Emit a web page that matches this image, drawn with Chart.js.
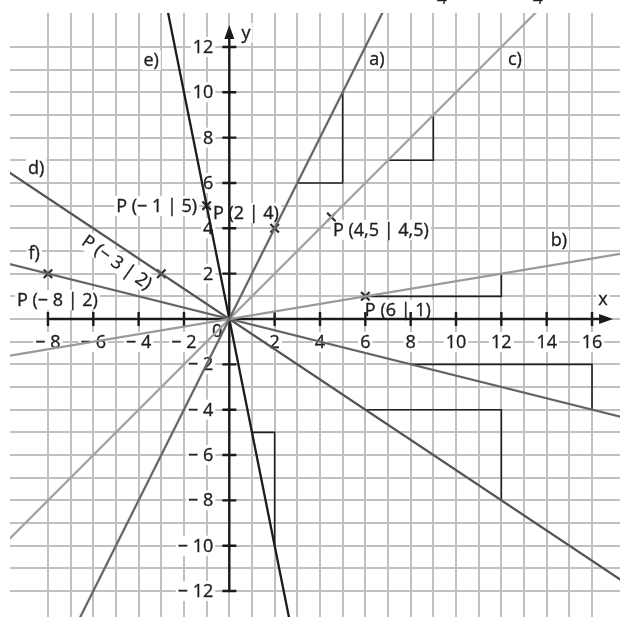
<!DOCTYPE html>
<html>
<head>
<meta charset="utf-8">
<script src="https://cdn.jsdelivr.net/npm/chart.js@4/dist/chart.umd.min.js"></script>
<style>
  html, body { margin: 0; padding: 0; background: #fff; }
</style>
</head>
<body>
<canvas id="graph" width="620" height="617"></canvas>
<script>
// lines a) - f), each through the origin and a marked point P
const lineNames = ["a)", "b)", "c)", "d)", "e)", "f)"];
const pointX = [2, 6, 4.5, -3, -1, -8];
const pointY = [4, 1, 4.5, 2, 5, 2];
const pointNames = ["P (2 | 4)", "P (6 | 1)", "P (4,5 | 4,5)", "P (− 3 | 2)", "P (− 1 | 5)", "P (− 8 | 2)"];

// slope triangles (corner points)
const triX = [[3, 5, 5], [6, 12, 12], [7, 9, 9], [6, 12, 12], [1, 2, 2], [8, 16, 16]];
const triY = [[6, 6, 10], [1, 1, 2], [7, 7, 9], [-4, -4, -8], [-5, -5, -10], [-2, -2, -4]];

const xTicks = [-8, -6, -4, -2, 2, 4, 6, 8, 10, 12, 14, 16];
const yTicks = [12, 10, 8, 6, 4, 2, -2, -4, -6, -8, -10, -12];

const lineColors = ["#686868", "#999999", "#a2a2a2", "#555555", "#1c1c1c", "#646464"];
const FONT = '18px "Open Sans", sans-serif';
const INK = "#1e1e1e";

// where the texts sit (data coords)
const nameSpots = [[6.51, 11.47], [14.54, 3.48], [12.6, 11.47], [-8.52, 6.66], [-3.45, 11.42], [-8.61, 2.91]];
const pointSpots = [
  { x: -0.72, y: 4.68, align: "left" },
  { x: 5.98, y: 0.4, align: "left" },
  { x: 4.57, y: 3.93, align: "left" },
  { x: -4.95, y: 2.51, align: "center", rot: 35 },
  { x: -1.42, y: 4.98, align: "right" },
  { x: -9.37, y: 0.84, align: "left" },
];

const minus = v => v < 0 ? "− " + (-v) : String(v);

const datasets = [];
lineNames.forEach((name, i) => {
  const m = pointY[i] / pointX[i];
  datasets.push({
    label: name,
    data: [{ x: -12, y: -12 * m }, { x: 20, y: 20 * m }],
    showLine: true,
    borderColor: lineColors[i],
    borderWidth: 2.3,
    pointRadius: 0,
  });
  datasets.push({
    label: name + " triangle",
    data: triX[i].map((x, k) => ({ x: x, y: triY[i][k] })),
    showLine: true,
    borderColor: "#222",
    borderWidth: 1.6,
    pointRadius: 0,
  });
});
datasets.push({
  label: "P",
  data: pointX.map((x, i) => ({ x: x, y: pointY[i] })),
  showLine: false,
  pointStyle: "crossRot",
  pointRadius: 6,
  pointBorderWidth: 2.2,
  pointBorderColor: "#2a2a2a",
});

function boxText(ctx, text, x, y, align, rot) {
  ctx.save();
  ctx.translate(x, y);
  if (rot) ctx.rotate(rot * Math.PI / 180);
  ctx.font = FONT;
  const w = ctx.measureText(text).width;
  let left = align === "left" ? 0 : align === "right" ? -w : -w / 2;
  ctx.fillStyle = "#fff";
  ctx.fillRect(left - 2, -10, w + 4, 20);
  ctx.fillStyle = INK;
  ctx.strokeStyle = INK;
  ctx.lineWidth = 0.35;
  ctx.textAlign = align;
  ctx.textBaseline = "middle";
  ctx.fillText(text, 0, 1);
  ctx.strokeText(text, 0, 1);
  ctx.restore();
}

const axesPlugin = {
  id: "axes",
  beforeDatasetsDraw(chart) {
    const { ctx, scales: { x, y } } = chart;
    const ox = x.getPixelForValue(0), oy = y.getPixelForValue(0);

    xTicks.forEach(v => boxText(ctx, minus(v), x.getPixelForValue(v), oy + 23, "center"));
    yTicks.forEach(v => boxText(ctx, minus(v), ox - 16, y.getPixelForValue(v), "right"));
    boxText(ctx, "0", x.getPixelForValue(-0.54), y.getPixelForValue(-0.53), "center");

    pointNames.forEach((t, i) => {
      const s = pointSpots[i];
      boxText(ctx, t, x.getPixelForValue(s.x), y.getPixelForValue(s.y), s.align, s.rot);
    });
    lineNames.forEach((t, i) => {
      boxText(ctx, t, x.getPixelForValue(nameSpots[i][0]), y.getPixelForValue(nameSpots[i][1]), "center");
    });
    boxText(ctx, "x", x.getPixelForValue(16.48), y.getPixelForValue(0.88), "center");
    boxText(ctx, "y", x.getPixelForValue(0.74), y.getPixelForValue(12.62), "center");

    // cut-off text at the top edge
    ctx.save();
    ctx.font = FONT;
    ctx.fillStyle = INK;
    ctx.textAlign = "center";
    ctx.textBaseline = "alphabetic";
    ctx.fillText("4", x.getPixelForValue(9.38), 4);
    ctx.fillText("4", x.getPixelForValue(13.61), 4);
    ctx.restore();

    // axes with arrows
    ctx.save();
    ctx.strokeStyle = "#1a1a1a";
    ctx.fillStyle = "#1a1a1a";
    ctx.lineWidth = 2.4;
    const xEnd = x.getPixelForValue(16.93), yEnd = y.getPixelForValue(12.97);
    ctx.beginPath();
    ctx.moveTo(x.getPixelForValue(-8), oy);
    ctx.lineTo(xEnd - 8, oy);
    ctx.moveTo(ox, y.getPixelForValue(-12));
    ctx.lineTo(ox, yEnd + 8);
    xTicks.forEach(v => {
      const px = x.getPixelForValue(v);
      ctx.moveTo(px, oy - 7); ctx.lineTo(px, oy + 7);
    });
    yTicks.forEach(v => {
      const py = y.getPixelForValue(v);
      ctx.moveTo(ox - 7, py); ctx.lineTo(ox + 7, py);
    });
    ctx.stroke();
    ctx.beginPath();
    ctx.moveTo(xEnd, oy); ctx.lineTo(xEnd - 14, oy - 5); ctx.lineTo(xEnd - 14, oy + 5); ctx.closePath();
    ctx.moveTo(ox, yEnd); ctx.lineTo(ox - 5, yEnd + 14); ctx.lineTo(ox + 5, yEnd + 14); ctx.closePath();
    ctx.fill();
    ctx.restore();
  },
};

const gridColor = c => Number.isInteger(c.tick.value) ? "#c0c0c0" : "rgba(0,0,0,0)";

new Chart(document.getElementById("graph").getContext("2d"), {
  type: "scatter",
  data: { datasets: datasets },
  options: {
    responsive: false,
    animation: false,
    devicePixelRatio: 1,
    layout: { autoPadding: false, padding: { left: 10, top: 13, right: 0, bottom: 0 } },
    plugins: { legend: { display: false }, tooltip: { enabled: false } },
    scales: {
      x: {
        type: "linear",
        min: -9.674,
        max: 17.234,
        ticks: { display: false, stepSize: 1, autoSkip: false },
        grid: { color: gridColor, lineWidth: 2, drawTicks: false },
        border: { display: false },
      },
      y: {
        type: "linear",
        min: -13.145,
        max: 13.498,
        ticks: { display: false, stepSize: 1, autoSkip: false },
        grid: { color: gridColor, lineWidth: 2, drawTicks: false },
        border: { display: false },
      },
    },
  },
  plugins: [axesPlugin],
});
</script>
</body>
</html>
